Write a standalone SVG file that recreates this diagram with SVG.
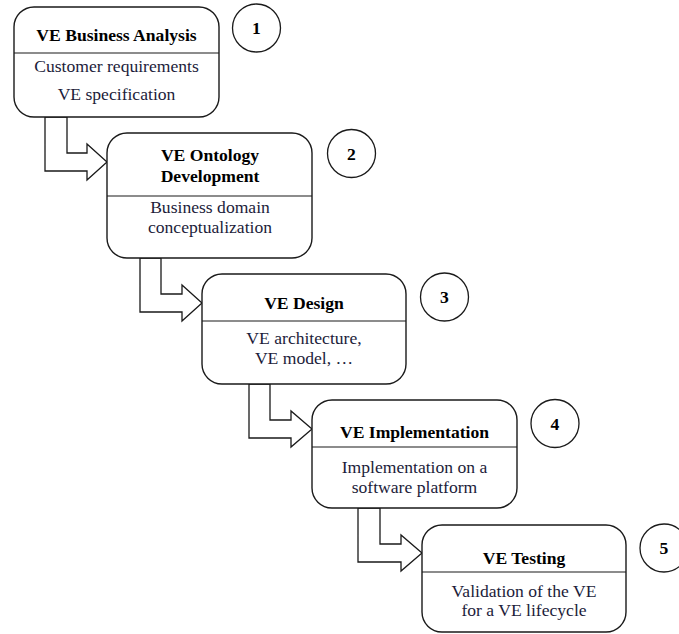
<svg xmlns="http://www.w3.org/2000/svg" width="679" height="634" viewBox="0 0 679 634">
<style>
.box{fill:#fff;stroke:#1a1a1a;stroke-width:1.4}
.div{stroke:#1a1a1a;stroke-width:1.2}
.arr{fill:#fff;stroke:#1a1a1a;stroke-width:1.3;stroke-linejoin:miter}
.num{fill:#fff;stroke:#1a1a1a;stroke-width:1.3}
text{font-family:"Liberation Serif","Times New Roman",serif;font-size:17.6px;text-anchor:middle}
.t{font-weight:bold;fill:#000}
.b{fill:#1c1c3a}
.n{font-weight:bold;fill:#000}
</style>
<rect width="679" height="634" fill="#fff"/>
<g id="connectors">
<polygon class="arr" points="45,117 45,171 87,171 87,180 107,162 87,144 87,153 67,153 67,117"/>
<polygon class="arr" points="140,258 140,312 182,312 182,321 202,303 182,285 182,294 161,294 161,258"/>
<polygon class="arr" points="249,384 249,438 291,438 291,447 312,429 291,411 291,420 270,420 270,384"/>
<polygon class="arr" points="358,508 358,562 401,562 401,571 422,553 401,535 401,544 380,544 380,508"/>
</g>
<g id="node1">
<rect class="box" x="14" y="7" width="205" height="110" rx="20"/>
<line class="div" x1="14" y1="53" x2="219" y2="53"/>
<text class="t" x="116.5" y="41">VE Business Analysis</text>
<text class="b" x="116.5" y="72">Customer requirements</text>
<text class="b" x="116.5" y="100">VE specification</text>
</g>
<g id="node2">
<rect class="box" x="107" y="133" width="205" height="125" rx="20"/>
<line class="div" x1="107" y1="196" x2="312" y2="196"/>
<text class="t" x="210" y="161">VE Ontology</text>
<text class="t" x="210" y="182">Development</text>
<text class="b" x="210" y="213">Business domain</text>
<text class="b" x="210" y="233">conceptualization</text>
</g>
<g id="node3">
<rect class="box" x="202" y="274" width="204" height="110" rx="20"/>
<line class="div" x1="202" y1="321" x2="406" y2="321"/>
<text class="t" x="304" y="309">VE Design</text>
<text class="b" x="304" y="344">VE architecture,</text>
<text class="b" x="304" y="364">VE model, …</text>
</g>
<g id="node4">
<rect class="box" x="312" y="400" width="205" height="108" rx="20"/>
<line class="div" x1="312" y1="447" x2="517" y2="447"/>
<text class="t" x="414.5" y="438">VE Implementation</text>
<text class="b" x="414.5" y="473">Implementation on a</text>
<text class="b" x="414.5" y="493">software platform</text>
</g>
<g id="node5">
<rect class="box" x="422" y="525" width="204" height="107" rx="20"/>
<line class="div" x1="422" y1="572" x2="626" y2="572"/>
<text class="t" x="524" y="564">VE Testing</text>
<text class="b" x="524" y="597">Validation of the VE</text>
<text class="b" x="524" y="616">for a VE lifecycle</text>
</g>
<g id="step1"><circle class="num" cx="256.5" cy="28" r="24"/><text class="n" x="256.5" y="34">1</text></g>
<g id="step2"><circle class="num" cx="351.5" cy="153.5" r="24"/><text class="n" x="351.5" y="159.5">2</text></g>
<g id="step3"><circle class="num" cx="444.5" cy="297" r="24"/><text class="n" x="444.5" y="303">3</text></g>
<g id="step4"><circle class="num" cx="555" cy="423.5" r="24"/><text class="n" x="555" y="429.5">4</text></g>
<g id="step5"><circle class="num" cx="664" cy="548" r="24"/><text class="n" x="664" y="554">5</text></g>
</svg>
